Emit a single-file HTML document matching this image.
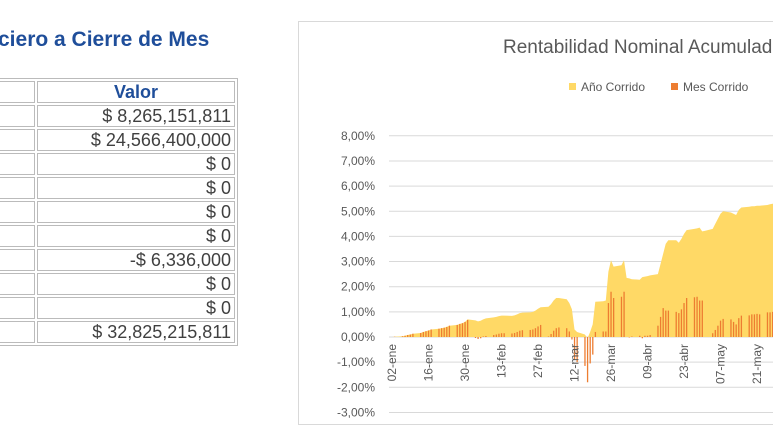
<!DOCTYPE html>
<html><head><meta charset="utf-8">
<style>
body{margin:0;width:773px;height:447px;overflow:hidden;background:#fff;font-family:"Liberation Sans",Arial,sans-serif;position:relative}
#title{position:absolute;left:-2px;top:28px;font-size:21px;font-weight:bold;color:#1f4e9a;white-space:nowrap}
table{position:absolute;left:-20px;top:78px;border-collapse:separate;border-spacing:2px;border:1px solid #bbb}
td{border:1px solid #bbb;height:20px;padding:0 3px;font-size:18px;color:#404040;text-align:right;line-height:20px}
td.h{text-align:center;color:#1f4e9a;font-weight:bold}
#chart{position:absolute;left:298px;top:21px;width:480px;height:402px;border:1px solid #d9d9d9;border-right:none}
</style></head><body>
<div id="title">ciero a Cierre de Mes</div>
<table>
<tr><td style="width:44px"></td><td class="h" style="width:190px">Valor</td></tr>
<tr><td></td><td>$ 8,265,151,811</td></tr>
<tr><td></td><td>$ 24,566,400,000</td></tr>
<tr><td></td><td>$ 0</td></tr>
<tr><td></td><td>$ 0</td></tr>
<tr><td></td><td>$ 0</td></tr>
<tr><td></td><td>$ 0</td></tr>
<tr><td></td><td>-$ 6,336,000</td></tr>
<tr><td></td><td>$ 0</td></tr>
<tr><td></td><td>$ 0</td></tr>
<tr><td></td><td>$ 32,825,215,811</td></tr>
</table>
<div id="chart"></div>
<svg id="svg" width="773" height="447" style="position:absolute;left:0;top:0" font-family="Liberation Sans, Arial, sans-serif">
<text x="503" y="53" font-size="19" fill="#595959">Rentabilidad Nominal Acumulada</text>
<rect x="569" y="83" width="7" height="7" fill="#ffd966"/>
<text x="581" y="91" font-size="12" fill="#595959">Año Corrido</text>
<rect x="671" y="83" width="7" height="7" fill="#ed7d31"/>
<text x="683" y="91" font-size="12" fill="#595959">Mes Corrido</text>
<g id="grid"></g><g id="area"></g><g id="bars"></g><g id="labels"></g>
</svg>
<script>
const yTicks=[8,7,6,5,4,3,2,1,0,-1,-2,-3];
const xTickLabels=["02-ene","16-ene","30-ene","13-feb","27-feb","12-mar","26-mar","09-abr","23-abr","07-may","21-may"];
const anio=[0,0.01,0.03,0.05,0.08,0.1,0.13,0.16,0.2,0.23,0.26,0.3,0.33,0.35,0.37,0.4,0.45,0.48,0.52,0.55,0.6,0.7,
0.66,0.62,0.65,0.7,0.74,0.78,0.8,0.83,0.85,0.85,0.84,0.86,0.9,0.95,0.97,0.98,1.0,1.05,1.12,1.18,
1.2,1.3,1.45,1.55,1.55,1.5,1.35,1.1,0.3,0.2,0.1,-0.05,0.2,0.5,1.4,1.42,1.45,2.6,3.05,2.8,2.85,3.05,
2.35,2.33,2.3,2.28,2.38,2.4,2.42,2.45,2.5,2.9,3.3,3.7,3.85,3.85,3.75,3.9,4.1,4.25,4.3,4.32,4.35,4.2,
4.22,4.3,4.5,4.7,4.9,5.0,4.95,4.9,4.85,5.05,5.15,5.18,5.2,5.2,5.22,5.22,5.25,5.28,5.3,5.32,5.35];
const mes=[0,0.01,0.03,0.05,0.08,0.1,0.13,0.16,0.2,0.23,0.26,0.3,0.33,0.35,0.37,0.4,0.45,0.48,0.52,0.55,0.6,0.68,
-0.04,-0.08,-0.05,0.02,0.04,0.08,0.1,0.13,0.15,0.15,0.14,0.16,0.2,0.25,0.27,0.28,0.3,0.35,0.42,0.48,
0.02,0.12,0.25,0.35,0.38,0.35,0.22,-0.1,-0.9,-1.0,-1.15,-1.8,-1.05,-0.7,0.2,0.22,0.22,1.35,1.8,1.55,1.6,1.8,
0.0,-0.02,0.02,0.05,-0.05,0.05,0.05,0.08,0.45,0.8,1.15,1.05,1.05,1.0,0.95,1.1,1.35,1.55,1.58,1.6,1.45,1.45,
0,0.15,0.28,0.45,0.65,0.72,0.7,0.6,0.5,0.75,0.85,0.86,0.9,0.9,0.92,0.9,0.98,0.98,1.0,1.03,1.08];
const NS='http://www.w3.org/2000/svg';
const y=v=>337-v*25.15;
const x=d=>392+d*2.607;
// business day offsets from 02-ene
const days=[];
{let dt=new Date(2020,0,2);const s=dt.getTime();while(days.length<anio.length){const w=dt.getDay();if(w>0&&w<6)days.push(Math.round((dt.getTime()-s)/864e5));dt.setDate(dt.getDate()+1);}}
function mk(t,a,p){const e=document.createElementNS(NS,t);for(const k in a)e.setAttribute(k,a[k]);document.getElementById(p).appendChild(e);return e;}
yTicks.forEach(v=>{
 const l=mk('line',{x1:389,x2:773,y1:y(v),y2:y(v),stroke:'#d9d9d9','stroke-width':1},'grid');
 
 
 const t=mk('text',{x:375,y:y(v)+4,'text-anchor':'end','font-size':12,fill:'#595959'},'labels');
 t.textContent=v.toFixed(2).replace('.',',')+'%';
 
 
});
xTickLabels.forEach((s,i)=>{
 const xx=x(i*14)+4;
 const t=mk('text',{x:0,y:0,'text-anchor':'end','font-size':12,fill:'#595959',transform:`translate(${xx},344) rotate(-90)`},'labels');
 t.textContent=s;
 
 
});
let d='M'+x(days[0])+','+y(0);
anio.forEach((v,i)=>{d+=' L'+x(days[i]).toFixed(1)+','+y(v).toFixed(1);});
d+=' L'+x(days[days.length-1])+','+y(0)+' Z';
const a=mk('path',{d:d,fill:'#ffd966'},'area');


mes.forEach((v,i)=>{
 const b=mk('rect',{x:x(days[i])-0.6,y:Math.min(y(v),y(0)),width:1.3,height:Math.abs(y(v)-y(0)),fill:'#ed7d31'},'bars');
 
 
});
</script>
</body></html>
